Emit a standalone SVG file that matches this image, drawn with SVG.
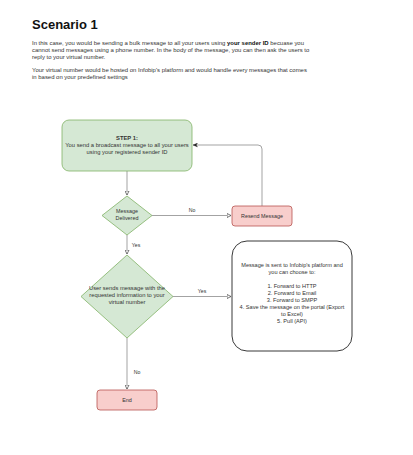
<svg xmlns="http://www.w3.org/2000/svg" width="413" height="455" viewBox="0 0 413 455">
<defs>
<style>
text{font-family:"Liberation Sans",Arial,Helvetica,sans-serif;fill:#333}
.t{font-size:5.95px}
.n{font-size:5.8px;text-anchor:middle}
.green{fill:#d5e8d4;stroke:#82b366;stroke-width:0.8}
.red{fill:#f8cecc;stroke:#b85450;stroke-width:0.8}
.edge{fill:none;stroke:#999;stroke-width:0.9}
.lbl{font-size:5.2px;text-anchor:middle}
</style>
<marker id="open" viewBox="0 0 10 10" refX="9" refY="5" markerWidth="5" markerHeight="5" orient="auto" markerUnits="userSpaceOnUse">
<path d="M1,1 L9,5 L1,9 Z" fill="#fff" stroke="#444" stroke-width="1.4"/>
</marker>
<marker id="filled" viewBox="0 0 10 10" refX="9" refY="5" markerWidth="5" markerHeight="5" orient="auto" markerUnits="userSpaceOnUse">
<path d="M0,1 L9,5 L0,9 L2.5,5 Z" fill="#222" stroke="#222" stroke-width="0.6"/>
</marker>
</defs>
<rect width="413" height="455" fill="#fff"/>
<g id="header">
<text x="32" y="29" style="font-size:13px;font-weight:bold;fill:#111">Scenario 1</text>
<text class="t" x="32" y="45">In this case, you would be sending a bulk message to all your users using <tspan style="font-weight:bold;fill:#111">your sender ID</tspan> becuase you</text>
<text class="t" x="32" y="52">cannot send messages using a phone number. In the body of the message, you can then ask the users to</text>
<text class="t" x="32" y="59">reply to your virtual number.</text>
<text class="t" x="32" y="72">Your virtual number would be hosted on Infobip's platform and would handle every messages that comes</text>
<text class="t" x="32" y="79">in based on your predefined settings</text>
</g>
<g id="connectors">
<path class="edge" d="M127,171 V195" marker-end="url(#open)"/>
<path class="edge" d="M152,215.5 H231" marker-end="url(#open)"/>
<text class="lbl" x="192" y="212">No</text>
<path class="edge" d="M262,206 V149 Q262,145 258,145 H193" marker-end="url(#filled)"/>
<path class="edge" d="M127,235 V254" marker-end="url(#open)"/>
<text class="lbl" x="136" y="247">Yes</text>
<path class="edge" d="M173,296.5 H231" marker-end="url(#open)"/>
<text class="lbl" x="202" y="293">Yes</text>
<path class="edge" d="M127,338 V389" marker-end="url(#open)"/>
<text class="lbl" x="137" y="374">No</text>
</g>
<g id="step1">
<rect class="green" x="62" y="120" width="130" height="51" rx="7"/>
<text class="n" x="127" y="140" style="font-weight:bold">STEP 1:</text>
<text class="n" x="127" y="147">You send a broadcast message to all your users</text>
<text class="n" x="127" y="154">using your registered sender ID</text>
</g>
<g id="delivered">
<polygon class="green" points="127,196 152,215.5 127,235 102,215.5"/>
<text class="n" x="127" y="213" style="font-size:5.4px">Message</text>
<text class="n" x="127" y="220" style="font-size:5.4px">Delivered</text>
</g>
<g id="resend">
<rect class="red" x="232" y="206" width="60" height="20" rx="3"/>
<text class="n" x="262" y="218" style="font-size:5.4px">Resend Message</text>
</g>
<g id="usersends">
<polygon class="green" points="127,255 173,296.5 127,338 81,296.5"/>
<text class="n" x="127" y="290">User sends message with the</text>
<text class="n" x="127" y="297">requested information to your</text>
<text class="n" x="127" y="304">virtual number</text>
</g>
<g id="platform">
<rect x="232" y="241" width="120" height="110" rx="15" fill="#fff" stroke="#222" stroke-width="0.9"/>
<text class="n" x="292" y="267" style="font-size:5.6px">Message is sent to Infobip's platform and</text>
<text class="n" x="292" y="274" style="font-size:5.6px">you can choose to:</text>
<text class="n" x="292" y="288" style="font-size:5.6px">1. Forward to HTTP</text>
<text class="n" x="292" y="295" style="font-size:5.6px">2. Forward to Email</text>
<text class="n" x="292" y="302" style="font-size:5.6px">3. Forward to SMPP</text>
<text class="n" x="292" y="309" style="font-size:5.6px">4. Save the message on the portal (Export</text>
<text class="n" x="292" y="316" style="font-size:5.6px">to Excel)</text>
<text class="n" x="292" y="323" style="font-size:5.6px">5. Pull (API)</text>
</g>
<g id="end">
<rect class="red" x="97" y="390" width="60" height="20" rx="3"/>
<text class="n" x="127" y="402" style="font-size:5.4px">End</text>
</g>
</svg>
